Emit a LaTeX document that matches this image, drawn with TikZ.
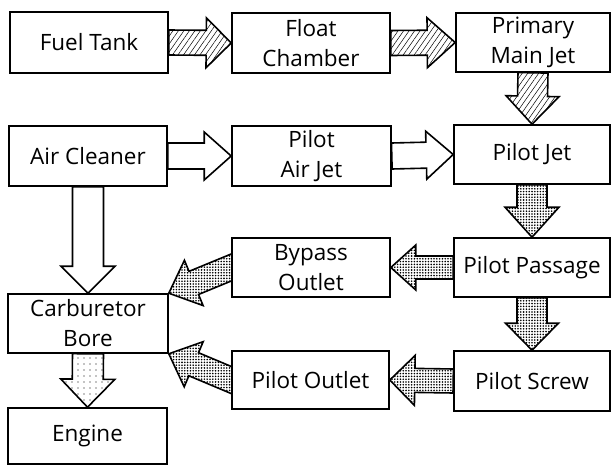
\documentclass[tikz,border=0pt]{standalone}
\usepackage{fontspec}
\setmainfont{Open Sans}
\usetikzlibrary{calc,patterns.meta,backgrounds}
\tikzset{
  box/.style={draw, line width=1.6pt, fill=white, inner sep=0pt, align=center,
    font=\fontsize{22.5}{30}\selectfont},
  arr/.style={draw, line width=1.6pt, line join=miter},
  fuelarrow/.style={arr, pattern={Lines[angle=55,distance=4.5pt,line width=0.5pt]}},
  airarrow/.style={arr, fill=white},
  mixarrow/.style={arr, pattern={Dots[distance=2.8pt,radius=0.9pt]}},
  enginearrow/.style={arr, pattern={Dots[distance=6pt,radius=0.7pt]}},
}
% #1 style, #2 tail, #3 tip, #4 shaft half width, #5 head half width, #6 head length
\newcommand\blockarrow[6]{%
  \coordinate (ba-h) at ($(#3)!#6!(#2)$);
  \path[#1] ($(#2)!#4!90:(#3)$) -- ($(ba-h)!#4!-90:(#2)$) -- ($(ba-h)!#5!-90:(#2)$)
    -- (#3) -- ($(ba-h)!#5!90:(#2)$) -- ($(ba-h)!#4!90:(#2)$)
    -- ($(#2)!#4!-90:(#3)$) -- cycle;}
\begin{document}
\begin{tikzpicture}[x=1pt,y=-1pt]
\useasboundingbox (0,0) rectangle (611,466);
\node[box, minimum width=158pt, minimum height=61pt] (ft)  at (89,42.5)   {Fuel Tank};
\node[box, minimum width=158pt, minimum height=60pt] (fc)  at (311,43)    {Float\\Chamber};
\node[box, minimum width=154pt, minimum height=59pt] (pmj) at (533,42.5)  {Primary\\Main Jet};
\node[box, minimum width=158pt, minimum height=60pt] (ac)  at (88,156)    {Air Cleaner};
\node[box, minimum width=159pt, minimum height=60pt] (paj) at (311.5,156) {Pilot\\Air Jet};
\node[box, minimum width=156pt, minimum height=59pt] (pj)  at (532,154.5) {Pilot Jet};
\node[box, minimum width=158pt, minimum height=59pt] (bo)  at (311,267.5) {Bypass\\Outlet};
\node[box, minimum width=156pt, minimum height=59pt] (pp)  at (532,267.5) {Pilot Passage};
\node[box, minimum width=160pt, minimum height=59pt] (cb)  at (88,323.5)  {Carburetor\\Bore};
\node[box, minimum width=157pt, minimum height=58pt] (po)  at (310.5,380) {Pilot Outlet};
\node[box, minimum width=156pt, minimum height=60pt] (ps)  at (532,381)   {Pilot Screw};
\node[box, minimum width=159pt, minimum height=56pt] (en)  at (87.5,436)  {Engine};
\begin{scope}[on background layer]
  \blockarrow{fuelarrow}{ft.east}{fc.west}{12.5pt}{25pt}{25pt}
  \blockarrow{fuelarrow}{fc.east}{pmj.west}{12.5pt}{25pt}{28pt}
  \blockarrow{fuelarrow}{pmj.south}{pj.north}{15pt}{26.5pt}{28pt}
  \blockarrow{airarrow}{ac.east}{paj.west}{13pt}{24pt}{27pt}
  \blockarrow{airarrow}{paj.east}{pj.west}{13pt}{24pt}{27pt}
  \blockarrow{airarrow}{ac.south}{cb.north}{15.5pt}{27pt}{27pt}
  \blockarrow{mixarrow}{pj.south}{pp.north}{15pt}{27pt}{30pt}
  \blockarrow{mixarrow}{pp.west}{bo.east}{11.5pt}{22.5pt}{25pt}
  \blockarrow{mixarrow}{pp.south}{ps.north}{15pt}{26.5pt}{27pt}
  \blockarrow{mixarrow}{ps.west}{po.east}{12pt}{25pt}{25pt}
  \coordinate (bot) at ($(bo.west)!-10pt!(cb.north east)$);
  \blockarrow{mixarrow}{bot}{cb.north east}{12.5pt}{24.5pt}{27pt}
  \coordinate (pot) at ($(po.west)!-10pt!(cb.south east)$);
  \blockarrow{mixarrow}{pot}{cb.south east}{12.5pt}{24.5pt}{27pt}
  \blockarrow{enginearrow}{cb.south}{en.north}{15.5pt}{27pt}{28pt}
\end{scope}
\end{tikzpicture}
\end{document}
